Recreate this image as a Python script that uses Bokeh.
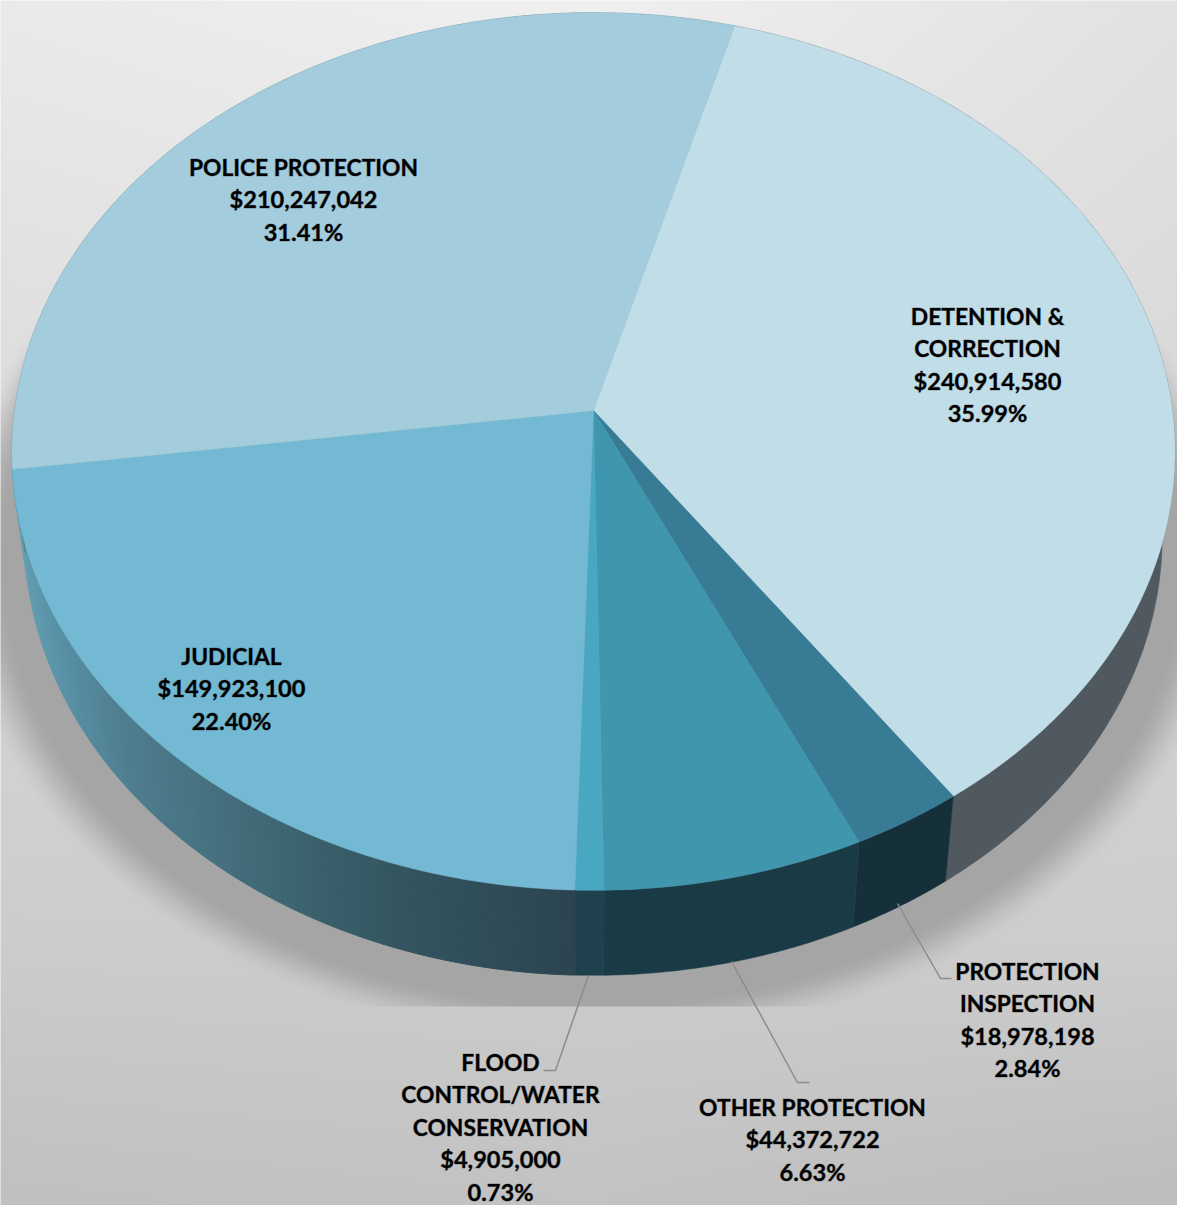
import numpy as np
from bokeh.plotting import figure
from bokeh.core.properties import value
from bokeh.embed import file_html
from bokeh.resources import INLINE

# Public-safety spending, clockwise from the first slice
categories = ["DETENTION & CORRECTION", "PROTECTION INSPECTION", "OTHER PROTECTION",
              "FLOOD CONTROL/WATER CONSERVATION", "JUDICIAL", "POLICE PROTECTION"]
amounts = [240914580, 18978198, 44372722, 4905000, 149923100, 210247042]
label_lines = [["DETENTION &", "CORRECTION"], ["PROTECTION", "INSPECTION"], ["OTHER PROTECTION"],
               ["FLOOD", "CONTROL/WATER", "CONSERVATION"], ["JUDICIAL"], ["POLICE PROTECTION"]]
top_colors = ["#c1dde8", "#377c94", "#4096ac", "#4aa7c2", "#73b9d3", "#a3ccdd"]
wall_colors = ["#4f595f", "#153038", "#1a3a45", "#1f414e", None, "#5f7f8c"]

# Centre of each label block and first line's y
label_x = [987, 1027, 812, 500, 231, 303]
label_y = [315, 970, 1106, 1061, 655, 166]
LINE_GAP = 32.5

# Projection of the tilted disc onto the page
APEX_X, APEX_Y = 593.0, 410.0
SCALE_X, SCALE_Y, TILT = 579.0, 435.0, 0.0934
START_DEG = 15.4
DEPTH = 85.0
BOTTOM_SHRINK = 0.978

W, H = 1177, 1205
PAD = 2

# Backdrop gray levels: rows are heights, columns are left, middle and right
BACK_Y = [0, 950, 1205]
BACK_LEFT = [234, 204, 192]
BACK_MID = [240, 205, 195]
BACK_RIGHT = [226, 205, 189]


def rim(theta):
    sx, sy = np.sin(theta), -np.cos(theta)
    d = 1 - TILT * sy
    return SCALE_X * sx / d, SCALE_Y * sy / d


def top_pts(theta):
    x, y = rim(theta)
    return APEX_X + x, APEX_Y + y


def bottom_pts(theta):
    x, y = rim(theta)
    return APEX_X + x * BOTTOM_SHRINK, APEX_Y + y + DEPTH


def backdrop():
    # Page gradient with the disc's soft shadow, which stops at the floor line
    yy, xx = np.mgrid[-PAD:H + PAD, -PAD:W + PAD] + 0.5
    left = np.interp(yy, BACK_Y, BACK_LEFT)
    mid = np.interp(yy, BACK_Y, BACK_MID)
    right = np.interp(yy, BACK_Y, BACK_RIGHT)
    u = np.clip(xx / (W / 2), 0, 2)
    base = np.where(u < 1, left + (mid - left) * u, mid + (right - mid) * (u - 1))
    r = np.sqrt(((xx - 592) / 590) ** 2 + ((yy - 560) / 445) ** 2)
    t = np.clip((r - 0.99) / 0.10, 0, 1)
    t = t * t * (3 - 2 * t)
    gray = base * t + 165 * (1 - t)
    gray = np.where(yy < 1006, gray, base).astype(np.uint32)
    return (255 << 24) | (gray << 16) | (gray << 8) | gray


p = figure(width=W, height=H, x_range=(0, W), y_range=(H, 0), min_border=0,
           output_backend="svg", toolbar_location=None)
p.axis.visible = False
p.grid.visible = False
p.outline_line_color = None

p.image_rgba(image=[backdrop()], x=-PAD, y=-PAD, dw=W + 2 * PAD, dh=H + 2 * PAD)

fractions = np.array(amounts) / sum(amounts)
edges = np.radians(START_DEG) + 2 * np.pi * np.concatenate([[0], np.cumsum(fractions)])

# Side wall of the judicial slice gets darker towards the front
shade_x = [15, 60, 130, 300, 400, 575]
shade_r = [106, 90, 79, 60, 51, 43]
shade_g = [163, 147, 126, 99, 85, 68]
shade_b = [184, 168, 144, 111, 96, 80]

for i, wall in enumerate(wall_colors):
    a = np.linspace(edges[i], edges[i + 1], 161 if wall is None else 60)
    tx, ty = top_pts(a)
    bx, by = bottom_pts(a)
    if wall is None:
        xs, ys, cols = [], [], []
        for k in range(len(a) - 1):
            xs.append([tx[k], tx[k + 1], bx[k + 1], bx[k]])
            ys.append([ty[k], ty[k + 1], by[k + 1], by[k]])
            m = 0.5 * (bx[k] + bx[k + 1])
            cols.append("#%02x%02x%02x" % (round(np.interp(m, shade_x, shade_r)),
                                           round(np.interp(m, shade_x, shade_g)),
                                           round(np.interp(m, shade_x, shade_b))))
        p.patches(xs, ys, fill_color=cols, line_color=cols, line_width=1)
    else:
        p.patch(np.r_[tx, bx[::-1]], np.r_[ty, by[::-1]], fill_color=wall, line_color=wall, line_width=0.5)

for i, col in enumerate(top_colors):
    a = np.linspace(edges[i], edges[i + 1], 200 if fractions[i] > 0.1 else 40)
    tx, ty = top_pts(a)
    p.patch(np.r_[APEX_X, tx], np.r_[APEX_Y, ty], fill_color=col, line_color=col, line_width=0.5)

# Leader lines from the wall to the outside labels
leader_xs = [[897, 940, 951], [731, 797, 809], [588, 555, 543]]
leader_ys = [[903, 978, 978], [961, 1082, 1082], [975, 1070, 1070]]
p.multi_line(leader_xs, leader_ys, line_color="#8c8c8c", line_width=1.5)

# Capitals run narrower than figures in the label face, so each row type has its own size
xs, ys, texts, sizes = [], [], [], []
for i, lines in enumerate(label_lines):
    rows = lines + ["${:,}".format(amounts[i]), "{:.2f}%".format(100 * fractions[i])]
    for j, row in enumerate(rows):
        xs.append(label_x[i])
        ys.append(label_y[i] + j * LINE_GAP)
        texts.append(row)
        sizes.append("22.8px" if j < len(lines) else "23.6px")
p.text(xs, ys, text=texts, text_font=value("Lato"), text_font_style="bold",
       text_font_size=sizes, text_color="#000000", text_align="center", text_baseline="middle",
       text_outline_color="#00000055")

open("out.html", "w").write(file_html(p, INLINE))
